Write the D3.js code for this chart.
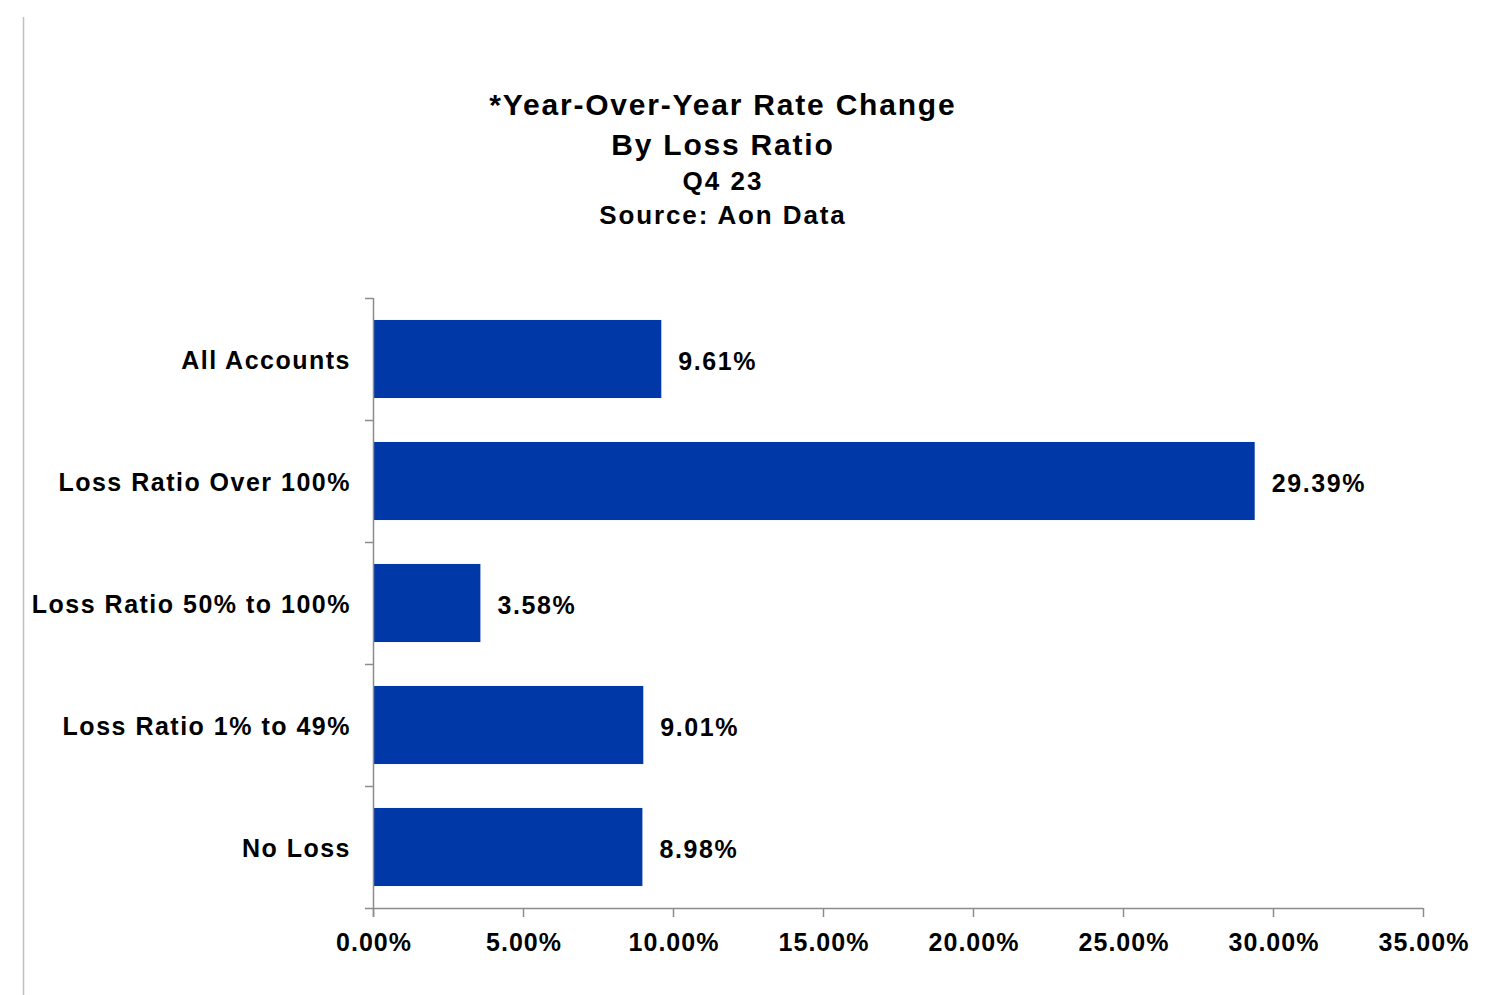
<!DOCTYPE html>
<html>
<head>
<meta charset="utf-8">
<script src="https://cdn.jsdelivr.net/npm/d3@7"></script>
<style>
  html, body { margin: 0; padding: 0; background: #fff; }
  svg { display: block; }
  text { font-family: "Liberation Sans", Arial, sans-serif; font-weight: bold; fill: #000; }
</style>
</head>
<body>
<svg id="chart" width="1486" height="995"></svg>
<script>
// Rate change by loss ratio band, Q4 23
const categories = ["All Accounts", "Loss Ratio Over 100%", "Loss Ratio 50% to 100%", "Loss Ratio 1% to 49%", "No Loss"];
const values = [9.61, 29.39, 3.58, 9.01, 8.98];
const tickValues = [0, 5, 10, 15, 20, 25, 30, 35];
const titleLines = ["*Year-Over-Year Rate Change", "By Loss Ratio", "Q4 23", "Source: Aon Data"];

const svg = d3.select("#chart");
const margin = { left: 373, right: 63, top: 298, bottom: 87 };
const W = 1486, H = 995;

// frame line at the left edge
svg.append("line")
  .attr("x1", 23.5).attr("x2", 23.5)
  .attr("y1", 17).attr("y2", H)
  .attr("stroke", "#c0c0c0").attr("stroke-width", 1.5);

const x = d3.scaleLinear().domain([0, 35]).range([margin.left, W - margin.right]);
const y = d3.scaleBand().domain(categories).range([margin.top, H - margin.bottom])
  .paddingInner(0.36).paddingOuter(0.18);

// titles
const titleSpec = [
  { y: 115, size: 30, ls: 1.8 },
  { y: 155, size: 30, ls: 1.8 },
  { y: 190, size: 26, ls: 2.0 },
  { y: 224, size: 26, ls: 1.9 }
];
svg.append("g").selectAll("text").data(titleLines).join("text")
  .attr("x", (d, i) => 722 + titleSpec[i].ls / 2)
  .attr("y", (d, i) => titleSpec[i].y)
  .attr("text-anchor", "middle")
  .attr("font-size", (d, i) => titleSpec[i].size)
  .attr("letter-spacing", (d, i) => titleSpec[i].ls)
  .text(d => d);

// bars
svg.append("g").selectAll("rect").data(values).join("rect")
  .attr("x", x(0))
  .attr("y", (d, i) => y(categories[i]))
  .attr("width", d => x(d) - x(0))
  .attr("height", y.bandwidth())
  .attr("fill", "#0038a8");

// value labels
svg.append("g").selectAll("text").data(values).join("text")
  .attr("x", d => x(d) + 17)
  .attr("y", (d, i) => y(categories[i]) + y.bandwidth() / 2 + 2)
  .attr("dy", "0.36em")
  .attr("font-size", 25)
  .attr("letter-spacing", 1.6)
  .text(d => d.toFixed(2) + "%");

// y axis with band boundary ticks
const yAxisG = svg.append("g");
const bounds = categories.map(c => y(c) - y.step() * y.paddingInner() / 2);
yAxisG.append("line")
  .attr("x1", margin.left + 0.5).attr("x2", margin.left + 0.5)
  .attr("y1", margin.top).attr("y2", H - margin.bottom + 9)
  .attr("stroke", "#8c8c8c").attr("stroke-width", 1.5);
yAxisG.selectAll("line.tick").data(bounds).join("line")
  .attr("class", "tick")
  .attr("x1", margin.left - 8).attr("x2", margin.left)
  .attr("y1", d => d + 0.5).attr("y2", d => d + 0.5)
  .attr("stroke", "#8c8c8c").attr("stroke-width", 1.5);
yAxisG.selectAll("text").data(categories).join("text")
  .attr("x", margin.left - 22)
  .attr("y", d => y(d) + y.bandwidth() / 2 + 1)
  .attr("dy", "0.36em")
  .attr("text-anchor", "end")
  .attr("font-size", 25)
  .attr("letter-spacing", 1.5)
  .text(d => d);

// x axis
const xAxis = d3.axisBottom(x)
  .tickValues(tickValues)
  .tickSizeInner(9)
  .tickSizeOuter(0)
  .tickPadding(16)
  .tickFormat(d => d.toFixed(2) + "%");
const xg = svg.append("g")
  .attr("transform", `translate(0,${H - margin.bottom})`)
  .call(xAxis);
xg.select(".domain").remove();
xg.append("line")
  .attr("x1", margin.left - 8).attr("x2", x(35))
  .attr("y1", 0.5).attr("y2", 0.5)
  .attr("stroke", "#8c8c8c").attr("stroke-width", 1.5);
xg.selectAll(".tick line").attr("stroke", "#8c8c8c").attr("stroke-width", 1.5);
xg.selectAll(".tick text")
  .attr("font-size", 25)
  .attr("font-family", "Liberation Sans, Arial, sans-serif")
  .attr("font-weight", "bold")
  .attr("letter-spacing", 1)
  .attr("dx", 0.5)
  .attr("fill", "#000");
</script>
</body>
</html>
